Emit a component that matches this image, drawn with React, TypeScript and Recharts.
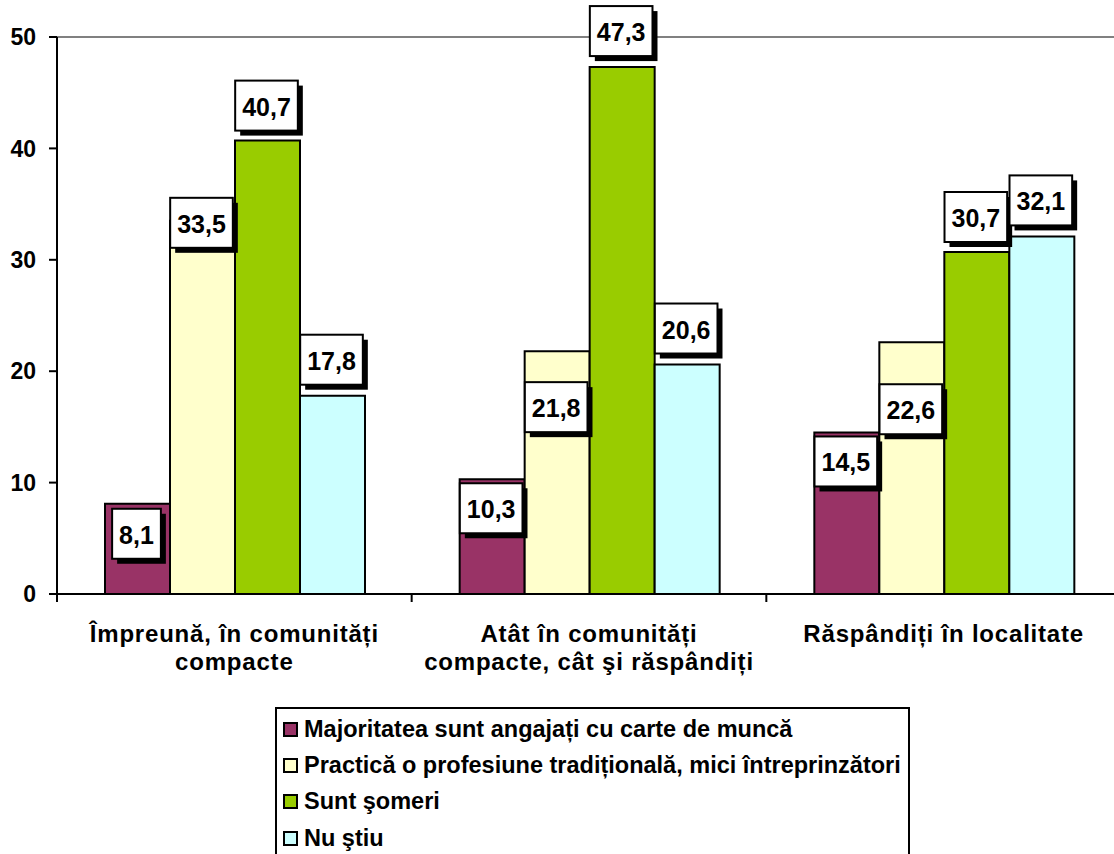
import { BarChart, Bar, XAxis, YAxis, Legend, LabelList, ReferenceLine } from 'recharts';

const categories = [
  'Împreună, în comunități\ncompacte',
  'Atât în comunități\ncompacte, cât şi răspândiți',
  'Răspândiți în localitate',
];

const majoritatea = [8.1, 10.3, 14.5];
const practica = [33.5, 21.8, 22.6];
const someri = [40.7, 47.3, 30.7];
const nuStiu = [17.8, 20.6, 32.1];

const yTicks = [0, 10, 20, 30, 40, 50];

// vertical shift of each value box from the bar top (px), per series, per category
const labelShift = [
  [30, 29, 29],
  [2, 56, 67],
  [-35, -36, -35],
  [-36, -36, -36],
];

const series = [
  { key: 'majoritatea', name: 'Majoritatea sunt angajați cu carte de muncă', color: '#993366', values: majoritatea },
  { key: 'practica', name: 'Practică o profesiune tradițională, mici întreprinzători', color: '#FFFFCC', values: practica },
  { key: 'someri', name: 'Sunt şomeri', color: '#99CC00', values: someri },
  { key: 'nuStiu', name: 'Nu ştiu', color: '#CCFFFF', values: nuStiu },
];

const data = categories.map((name, i) => {
  const row: Record<string, string | number> = { name };
  series.forEach((s) => {
    row[s.key] = s.values[i];
  });
  return row;
});

const FONT = '"Liberation Sans", Arial, sans-serif';
const CHART_W = 1121;
const LEFT = 57;
const AXIS_Y = 594;
const BAND = (CHART_W - LEFT) / categories.length;

const fmt = (v: number) => v.toFixed(1).replace('.', ',');

const textWidth = (s: string, size: number) =>
  s.split('').reduce((acc, ch) => acc + (ch === ',' ? 0.278 : 0.556), 0) * size;

const makeValueBox = (seriesIndex: number) => (props: any) => {
  const { x, y, width, value, index } = props;
  if (value == null) return null;
  const label = fmt(Number(value));
  const fs = 25;
  const w = textWidth(label, fs) + 14;
  const h = 50;
  const cx = Number(x) + Number(width) / 2 - 1;
  const cy = Number(y) + labelShift[seriesIndex][index];
  return (
    <g>
      <rect x={cx - w / 2 + 5} y={cy - h / 2 + 5} width={w} height={h} fill="#000" />
      <rect x={cx - w / 2} y={cy - h / 2} width={w} height={h} fill="#fff" stroke="#000" strokeWidth={2} />
      <text
        x={cx}
        y={cy + 1}
        textAnchor="middle"
        dominantBaseline="central"
        fontFamily={FONT}
        fontWeight="bold"
        fontSize={fs}
        fill="#000"
      >
        {label}
      </text>
    </g>
  );
};

const CategoryTick = (props: any) => {
  const { x, payload, index } = props;
  const lines = String(payload.value).split('\n');
  const left = x - BAND / 2;
  return (
    <g>
      <line x1={left} x2={left} y1={AXIS_Y} y2={AXIS_Y + 8} stroke="#000" strokeWidth={2} />
      {index === categories.length - 1 && (
        <line x1={x + BAND / 2} x2={x + BAND / 2} y1={AXIS_Y} y2={AXIS_Y + 8} stroke="#000" strokeWidth={2} />
      )}
      <text
        textAnchor="middle"
        fontFamily={FONT}
        fontWeight="bold"
        fontSize={24}
        letterSpacing={0.8}
        fill="#000"
      >
        {lines.map((line, i) => (
          <tspan key={i} x={x} y={AXIS_Y + 48 + i * 28}>
            {line}
          </tspan>
        ))}
      </text>
    </g>
  );
};

const LegendBox = () => (
  <div
    style={{
      border: '2px solid #000',
      background: '#fff',
      boxSizing: 'border-box',
      width: 635,
      height: 170,
      paddingTop: 2,
      fontFamily: FONT,
      fontWeight: 'bold',
      fontSize: 23.5,
      color: '#000',
      whiteSpace: 'nowrap',
    }}
  >
    {series.map((s) => (
      <div key={s.key} style={{ display: 'flex', alignItems: 'center', height: 36.4, paddingLeft: 6 }}>
        <span
          style={{
            display: 'inline-block',
            width: 15,
            height: 15,
            boxSizing: 'border-box',
            border: '2px solid #000',
            background: s.color,
            marginRight: 6,
            flex: 'none',
          }}
        />
        <span>{s.name}</span>
      </div>
    ))}
  </div>
);

export default function App() {
  return (
    <div style={{ position: 'absolute', left: 0, top: 0, width: 1114, height: 854, overflow: 'hidden', background: '#fff' }}>
      <BarChart
        width={CHART_W}
        height={854}
        data={data}
        margin={{ top: 37, right: 0, left: 0, bottom: 200 }}
        barCategoryGap={48}
        barGap={0}
      >
        <ReferenceLine y={50} stroke="#808080" strokeWidth={2} />
        <XAxis
          dataKey="name"
          interval={0}
          tickLine={false}
          tickSize={0}
          tickMargin={0}
          height={60}
          axisLine={{ stroke: '#000', strokeWidth: 2 }}
          tick={<CategoryTick />}
        />
        <YAxis
          width={LEFT}
          domain={[0, 50]}
          ticks={yTicks}
          interval={0}
          tickSize={8}
          tickMargin={13}
          axisLine={{ stroke: '#000', strokeWidth: 2 }}
          tickLine={{ stroke: '#000', strokeWidth: 2 }}
          tick={{ fill: '#000', fontFamily: FONT, fontWeight: 'bold', fontSize: 23 }}
        />
        <Legend
          layout="vertical"
          verticalAlign="middle"
          align="center"
          content={<LegendBox />}
          wrapperStyle={{ left: 275, top: 707, width: 635, height: 170 }}
        />
        {series.map((s, si) => (
          <Bar
            key={s.key}
            dataKey={s.key}
            name={s.name}
            fill={s.color}
            stroke="#000"
            strokeWidth={2}
            isAnimationActive={false}
          >
            <LabelList dataKey={s.key} content={makeValueBox(si)} />
          </Bar>
        ))}
      </BarChart>
    </div>
  );
}
